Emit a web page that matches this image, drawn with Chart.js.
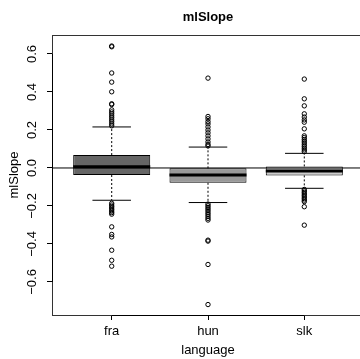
<!DOCTYPE html>
<html>
<head>
<meta charset="utf-8">
<script src="https://cdn.jsdelivr.net/npm/chart.js@4/dist/chart.umd.min.js"></script>
<style>
  html, body { margin: 0; padding: 0; background: #fff; overflow: hidden; }
  #wrap { width: 370px; height: 359px; }
</style>
</head>
<body>
<div id="wrap"><canvas id="myChart"></canvas></div>
<script>
// groups on the x axis
const languages = ['fra', 'hun', 'slk'];

// box statistics per language
const lowerWhisker = [-0.170, -0.182, -0.107];
const q1 = [-0.037, -0.078, -0.039];
const median = [0.006, -0.037, -0.016];
const q3 = [0.068, -0.002, 0.008];
const upperWhisker = [0.216, 0.110, 0.077];

// points beyond the whiskers
const fraOutliers = [0.638, 0.642, 0.500, 0.452, 0.401, 0.334, 0.338,
  0.306, 0.295, 0.285, 0.274, 0.264, 0.253, 0.243, 0.232, 0.222,
  -0.186, -0.195, -0.203, -0.211, -0.219, -0.227, -0.235, -0.243,
  -0.310, -0.350, -0.363, -0.433, -0.486, -0.517];
const hunOutliers = [0.473, 0.271, 0.259, 0.244, 0.232, 0.216, 0.200, 0.185,
  0.169, 0.153, 0.137, 0.124, 0.116,
  -0.190, -0.199, -0.208, -0.217, -0.226, -0.236, -0.245, -0.255, -0.265, -0.274,
  -0.380, -0.385, -0.508, -0.719];
const slkOutliers = [0.468, 0.364, 0.327, 0.285, 0.268, 0.253, 0.241, 0.206,
  0.169, 0.160, 0.150, 0.141, 0.132, 0.122, 0.113, 0.104, 0.095, 0.086,
  -0.113, -0.121, -0.129, -0.137, -0.145, -0.153, -0.161, -0.169, -0.177,
  -0.204, -0.301];
const outliers = [fraOutliers, hunOutliers, slkOutliers];

const yTicks = [-0.6, -0.4, -0.2, 0.0, 0.2, 0.4, 0.6];
const boxColors = ['#666666', '#999999', '#cccccc'];

const FONT = "'Liberation Sans', Arial, Helvetica, sans-serif";

function segment(x0, y0, x1, y1, width, dash, order)
{
    return {
        type: 'line',
        data: [{x: x0, y: y0}, {x: x1, y: y1}],
        borderColor: '#000',
        borderWidth: width,
        borderDash: dash,
        pointRadius: 0,
        fill: false,
        tension: 0,
        order: order
    };
}

let datasets = [];

// boxes as floating bars from q1 to q3
datasets.push({
    type: 'bar',
    data: languages.map((l, i) => ({x: i + 1, y: [q1[i], q3[i]]})),
    backgroundColor: boxColors,
    borderColor: '#000',
    borderWidth: 1,
    borderSkipped: false,
    barPercentage: 0.8,
    categoryPercentage: 1,
    order: 6
});

for (let i = 0; i < languages.length; i++)
{
    const x = i + 1;
    // dashed whiskers
    datasets.push(segment(x, q3[i], x, upperWhisker[i], 1, [2, 2], 5));
    datasets.push(segment(x, q1[i], x, lowerWhisker[i], 1, [2, 2], 5));
    // whisker caps
    datasets.push(segment(x - 0.2, upperWhisker[i], x + 0.2, upperWhisker[i], 1, [], 4));
    datasets.push(segment(x - 0.2, lowerWhisker[i], x + 0.2, lowerWhisker[i], 1, [], 4));
    // median
    datasets.push(segment(x - 0.4, median[i], x + 0.4, median[i], 3, [], 3));
}

// outlier circles
datasets.push({
    type: 'scatter',
    data: outliers.flatMap((list, i) => list.map(v => ({x: i + 1, y: v}))),
    pointStyle: 'circle',
    pointRadius: 2.2,
    pointBorderWidth: 1,
    borderColor: '#000',
    backgroundColor: 'rgba(0,0,0,0)',
    order: 2
});

// reference line at zero
datasets.push(segment(0.38, 0, 3.62, 0, 1, [], 1));

// frame, title and rotated y tick labels
const rFrame = {
    id: 'rFrame',
    afterDraw(chart)
    {
        const ctx = chart.ctx;
        const area = chart.chartArea;
        const y = chart.scales.y;
        const x = chart.scales.x;
        ctx.save();

        ctx.strokeStyle = '#333';
        ctx.lineWidth = 1;
        ctx.strokeRect(Math.round(area.left) + 0.5, Math.round(area.top) + 0.5,
            area.right - area.left, area.bottom - area.top);

        // axis lines over the frame, first tick to last tick
        ctx.strokeStyle = '#000';
        ctx.beginPath();
        const yl = Math.round(area.left) + 0.5;
        ctx.moveTo(yl, y.getPixelForValue(yTicks[0]));
        ctx.lineTo(yl, y.getPixelForValue(yTicks[yTicks.length - 1]));
        const xb = Math.round(area.bottom) + 0.5;
        ctx.moveTo(x.getPixelForValue(1), xb);
        ctx.lineTo(x.getPixelForValue(languages.length), xb);
        ctx.stroke();

        ctx.fillStyle = '#000';
        ctx.font = '13px ' + FONT;
        ctx.textAlign = 'center';
        ctx.textBaseline = 'middle';
        yTicks.forEach(v => {
            ctx.save();
            ctx.translate(area.left - 20, y.getPixelForValue(v));
            ctx.rotate(-Math.PI / 2);
            ctx.fillText(v.toFixed(1).replace('-', '\u2212'), 0, 0);
            ctx.restore();
        });

        ctx.font = 'bold 13px ' + FONT;
        ctx.fillText('mlSlope', (area.left + area.right) / 2, 17);
        ctx.restore();
    }
};

const ctx = document.getElementById('myChart').getContext('2d');
const myChart = new Chart(ctx, {
    type: 'bar',
    data: { datasets: datasets },
    options: {
        responsive: true,
        maintainAspectRatio: false,
        animation: false,
        layout: { padding: { top: 35, right: 6, left: 0, bottom: 0 } },
        plugins: {
            legend: { display: false },
            tooltip: { enabled: false }
        },
        scales: {
            x: {
                type: 'linear',
                min: 0.38,
                max: 3.62,
                offset: false,
                afterBuildTicks: (axis) => { axis.ticks = languages.map((l, i) => ({value: i + 1})); },
                afterFit: (axis) => { axis.height = 44; },
                grid: { drawOnChartArea: false, drawTicks: true, tickLength: 5, color: '#000', offset: false },
                border: { display: false },
                ticks: {
                    autoSkip: false,
                    maxRotation: 0,
                    padding: 4,
                    color: '#000',
                    font: { family: FONT, size: 13 },
                    callback: (value) => languages[Math.round(value) - 1]
                },
                title: {
                    display: true,
                    text: 'language',
                    color: '#000',
                    font: { family: FONT, size: 13 },
                    padding: { top: 0, bottom: 1 }
                }
            },
            y: {
                type: 'linear',
                min: -0.774,
                max: 0.700,
                afterBuildTicks: (axis) => { axis.ticks = yTicks.map(v => ({value: v})); },
                afterFit: (axis) => { axis.width = 52; },
                grid: { drawOnChartArea: false, drawTicks: true, tickLength: 5, color: '#000' },
                border: { display: false },
                ticks: { display: false },
                title: {
                    display: true,
                    text: 'mlSlope',
                    color: '#000',
                    font: { family: FONT, size: 13 },
                    padding: { top: 7, bottom: 0 }
                }
            }
        }
    },
    plugins: [rFrame]
});
</script>
</body>
</html>
